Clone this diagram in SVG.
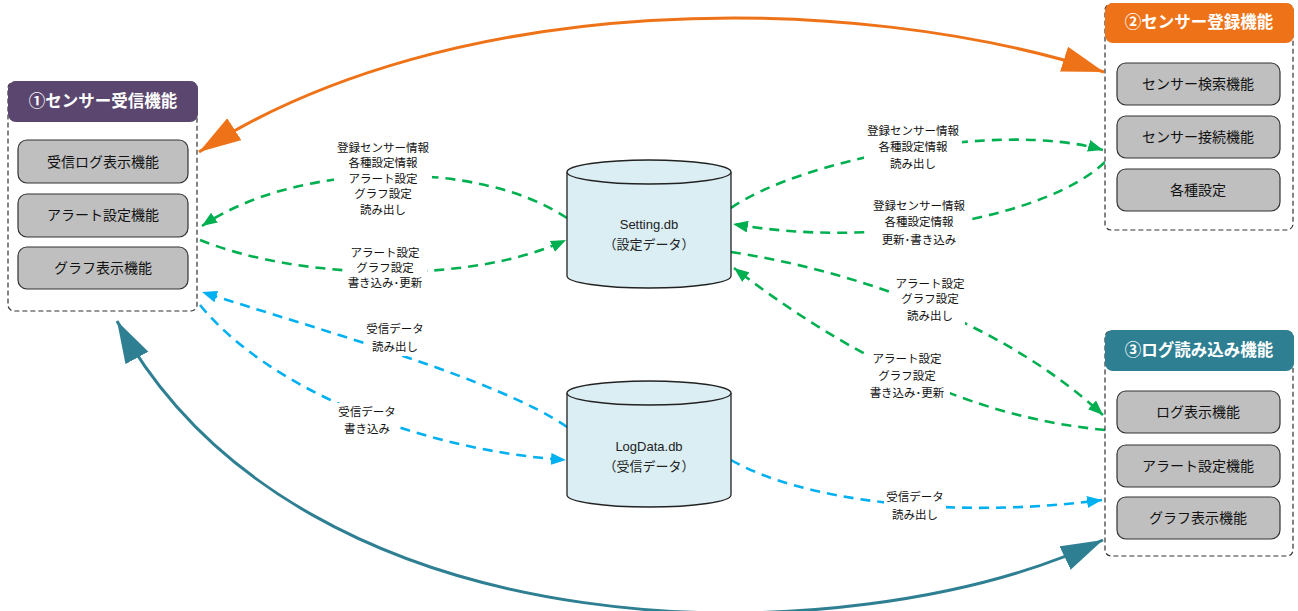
<svg xmlns="http://www.w3.org/2000/svg" width="1298" height="611" viewBox="0 0 1298 611">
<defs>
<style>
.frame{fill:#fff;stroke:#333;stroke-width:1.2;stroke-dasharray:5,3}
.hdr{stroke:none}
.htxt{font-family:"Noto Sans CJK JP",sans-serif;font-size:16.5px;font-weight:bold;fill:#fff;text-anchor:middle}
.box{fill:#BFBFBF;stroke:#333;stroke-width:1.2}
.btxt{font-family:"Noto Sans CJK JP",sans-serif;font-size:14px;fill:#111;text-anchor:middle}
.cyl{fill:#DAEEF3;stroke:#222;stroke-width:1.3}
.dtxt{font-family:"Liberation Sans","Noto Sans CJK JP",sans-serif;font-size:13px;fill:#222;text-anchor:middle}
.lbl{font-family:"Noto Sans CJK JP",sans-serif;font-size:11.5px;fill:#111;text-anchor:middle}
.bg{fill:#fff}
.g{fill:none;stroke:#00B050;stroke-width:2.6;stroke-dasharray:10,7}
.b{fill:none;stroke:#00B0F0;stroke-width:2.6;stroke-dasharray:10,7}
.o{fill:none;stroke:#EE7318;stroke-width:3}
.t{fill:none;stroke:#2F7F93;stroke-width:3}
</style>
<marker id="ao" markerUnits="userSpaceOnUse" markerWidth="44" markerHeight="28" refX="42" refY="13" orient="auto-start-reverse"><path d="M0,0 L42,13 L0,26 z" fill="#EE7318"/></marker>
<marker id="at" markerUnits="userSpaceOnUse" markerWidth="44" markerHeight="28" refX="42" refY="13" orient="auto-start-reverse"><path d="M0,0 L42,13 L0,26 z" fill="#2F7F93"/></marker>
<marker id="ag" markerUnits="userSpaceOnUse" markerWidth="16" markerHeight="12" refX="15" refY="6" orient="auto"><path d="M0,0 L15,6 L0,12 z" fill="#00B050"/></marker>
<marker id="ab" markerUnits="userSpaceOnUse" markerWidth="16" markerHeight="12" refX="15" refY="6" orient="auto"><path d="M0,0 L15,6 L0,12 z" fill="#00B0F0"/></marker>
</defs>
<rect width="1298" height="611" fill="#fff"/>

<g id="connectors">
<path class="o" d="M199,152 C450,-10 850,-10 1104,72" marker-start="url(#ao)" marker-end="url(#ao)"/>
<path class="t" d="M117,321 C300,660 850,660 1103,540" marker-start="url(#at)" marker-end="url(#at)"/>
<path class="g" d="M567,218 C480,160 300,160 202,226" marker-end="url(#ag)"/>
<path class="g" d="M200,240 C300,280 470,285 566,240" marker-end="url(#ag)"/>
<path class="g" d="M731,208 C800,160 1000,120 1103,150" marker-end="url(#ag)"/>
<path class="g" d="M1105,162 C1050,215 880,250 733,224" marker-end="url(#ag)"/>
<path class="g" d="M731,252 C850,270 1000,320 1103,415" marker-end="url(#ag)"/>
<path class="g" d="M1105,430 C1000,420 880,380 734,268" marker-end="url(#ag)"/>
<path class="b" d="M567,427 C500,380 320,330 202,292" marker-end="url(#ab)"/>
<path class="b" d="M200,305 C270,390 420,450 566,460" marker-end="url(#ab)"/>
<path class="b" d="M731,460 C800,500 950,520 1102,500" marker-end="url(#ab)"/>
</g>

<g id="labels">
<rect class="bg" x="334" y="139" width="98" height="80"/>
<text class="lbl" x="383" y="152">登録センサー情報</text>
<text class="lbl" x="383" y="167">各種設定情報</text>
<text class="lbl" x="383" y="183">アラート設定</text>
<text class="lbl" x="383" y="198">グラフ設定</text>
<text class="lbl" x="383" y="214">読み出し</text>

<rect class="bg" x="343" y="244" width="84" height="48"/>
<text class="lbl" x="385" y="257">アラート設定</text>
<text class="lbl" x="385" y="272">グラフ設定</text>
<text class="lbl" x="385" y="287">書き込み･更新</text>

<rect class="bg" x="864" y="122" width="98" height="50"/>
<text class="lbl" x="913" y="135">登録センサー情報</text>
<text class="lbl" x="913" y="151">各種設定情報</text>
<text class="lbl" x="913" y="168">読み出し</text>

<rect class="bg" x="870" y="197" width="98" height="52"/>
<text class="lbl" x="919" y="210">登録センサー情報</text>
<text class="lbl" x="919" y="226">各種設定情報</text>
<text class="lbl" x="919" y="244">更新･書き込み</text>

<rect class="bg" x="895" y="275" width="70" height="50"/>
<text class="lbl" x="930" y="288">アラート設定</text>
<text class="lbl" x="930" y="303">グラフ設定</text>
<text class="lbl" x="930" y="320">読み出し</text>

<rect class="bg" x="864" y="350" width="86" height="52"/>
<text class="lbl" x="907" y="363">アラート設定</text>
<text class="lbl" x="907" y="380">グラフ設定</text>
<text class="lbl" x="907" y="397">書き込み･更新</text>

<rect class="bg" x="364" y="320" width="62" height="36"/>
<text class="lbl" x="395" y="333">受信データ</text>
<text class="lbl" x="395" y="351">読み出し</text>

<rect class="bg" x="336" y="403" width="62" height="35"/>
<text class="lbl" x="367" y="416">受信データ</text>
<text class="lbl" x="367" y="433">書き込み</text>

<rect class="bg" x="884" y="488" width="62" height="36"/>
<text class="lbl" x="915" y="501">受信データ</text>
<text class="lbl" x="915" y="519">読み出し</text>
</g>

<g id="group1">
<rect class="frame" x="8" y="82" width="189" height="229" rx="6"/>
<rect class="hdr" x="8" y="81" width="190" height="41" rx="8" fill="#5A466E"/>
<text class="htxt" x="103" y="107">①センサー受信機能</text>
<rect class="box" x="18" y="140" width="170" height="43" rx="9"/>
<text class="btxt" x="103" y="167">受信ログ表示機能</text>
<rect class="box" x="18" y="194" width="170" height="43" rx="9"/>
<text class="btxt" x="103" y="220">アラート設定機能</text>
<rect class="box" x="18" y="247" width="170" height="42" rx="9"/>
<text class="btxt" x="103" y="273">グラフ表示機能</text>
</g>

<g id="group2">
<rect class="frame" x="1105" y="4" width="188" height="226" rx="6"/>
<rect class="hdr" x="1105" y="3" width="189" height="40" rx="8" fill="#EE7318"/>
<text class="htxt" x="1199" y="28">②センサー登録機能</text>
<rect class="box" x="1117" y="63" width="163" height="42" rx="9"/>
<text class="btxt" x="1198" y="89">センサー検索機能</text>
<rect class="box" x="1117" y="116" width="163" height="42" rx="9"/>
<text class="btxt" x="1198" y="142">センサー接続機能</text>
<rect class="box" x="1117" y="169" width="163" height="42" rx="9"/>
<text class="btxt" x="1198" y="195">各種設定</text>
</g>

<g id="group3">
<rect class="frame" x="1105" y="331" width="188" height="225" rx="6"/>
<rect class="hdr" x="1105" y="330" width="189" height="41" rx="8" fill="#2F7F93"/>
<text class="htxt" x="1199" y="356">③ログ読み込み機能</text>
<rect class="box" x="1117" y="391" width="163" height="42" rx="9"/>
<text class="btxt" x="1198" y="417">ログ表示機能</text>
<rect class="box" x="1117" y="445" width="163" height="42" rx="9"/>
<text class="btxt" x="1198" y="471">アラート設定機能</text>
<rect class="box" x="1117" y="497" width="163" height="42" rx="9"/>
<text class="btxt" x="1198" y="523">グラフ表示機能</text>
</g>

<g id="settingdb">
<path class="cyl" d="M567,172 A82,12 0 0 1 731,172 L731,276 A82,12 0 0 1 567,276 Z"/>
<path class="cyl" fill="none" d="M567,172 A82,12 0 0 0 731,172"/>
<text class="dtxt" x="649" y="229">Setting.db</text>
<text class="dtxt" x="649" y="249">（設定データ）</text>
</g>

<g id="logdatadb">
<path class="cyl" d="M567,393 A82,12 0 0 1 731,393 L731,495 A82,12 0 0 1 567,495 Z"/>
<path class="cyl" fill="none" d="M567,393 A82,12 0 0 0 731,393"/>
<text class="dtxt" x="649" y="451">LogData.db</text>
<text class="dtxt" x="649" y="471">（受信データ）</text>
</g>
</svg>
